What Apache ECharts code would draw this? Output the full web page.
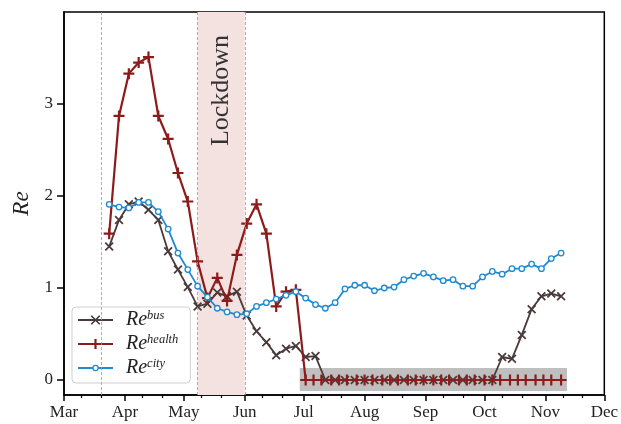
<!DOCTYPE html>
<html><head><meta charset="utf-8">
<script src="https://cdn.jsdelivr.net/npm/echarts@6/dist/echarts.min.js"></script>
<style>html,body{margin:0;padding:0;background:#fff}#c{width:621px;height:424px}</style>
</head><body><div id="c"></div>
<script>
// ---- data ----
const dates = ['2020-03-24','2020-03-29','2020-04-03','2020-04-08','2020-04-13','2020-04-18','2020-04-23','2020-04-28','2020-05-03','2020-05-08',
  '2020-05-13','2020-05-18','2020-05-23','2020-05-28','2020-06-02','2020-06-07','2020-06-12','2020-06-17','2020-06-22','2020-06-27',
  '2020-07-02','2020-07-07','2020-07-12','2020-07-17','2020-07-22','2020-07-27','2020-08-01','2020-08-06','2020-08-11','2020-08-16',
  '2020-08-21','2020-08-26','2020-08-31','2020-09-05','2020-09-10','2020-09-15','2020-09-20','2020-09-25','2020-09-30','2020-10-05',
  '2020-10-10','2020-10-15','2020-10-20','2020-10-25','2020-10-30','2020-11-04','2020-11-09'];
const busValues = [1.45,1.74,1.91,1.94,1.85,1.74,1.40,1.20,1.01,0.80,
  0.83,0.95,0.91,0.96,0.70,0.53,0.41,0.27,0.34,0.37,
  0.25,0.26,0,0,0,0,0,0,0,0,
  0,0,0,0,0,0,0,0,0,0,
  0.25,0.23,0.49,0.77,0.91,0.94,0.91];
const cityValues = [1.91,1.88,1.87,1.93,1.93,1.83,1.64,1.38,1.20,1.02,
  0.90,0.78,0.74,0.71,0.72,0.80,0.84,0.88,0.92,0.96,
  0.89,0.82,0.78,0.84,0.99,1.03,1.03,0.97,1.00,1.01,
  1.09,1.13,1.16,1.12,1.08,1.09,1.02,1.02,1.12,1.18,
  1.15,1.21,1.21,1.26,1.21,1.32,1.38];
const healthDates = ['2020-03-24','2020-03-29','2020-04-03','2020-04-08','2020-04-13','2020-04-18','2020-04-23','2020-04-28','2020-05-03','2020-05-08',
  '2020-05-13','2020-05-18','2020-05-23','2020-05-28','2020-06-02','2020-06-07','2020-06-12','2020-06-17','2020-06-22','2020-06-27',
  '2020-07-02','2020-07-06','2020-07-10','2020-07-15','2020-07-19','2020-07-23','2020-07-28','2020-08-01','2020-08-05','2020-08-10',
  '2020-08-14','2020-08-18','2020-08-23','2020-08-27','2020-08-31','2020-09-05','2020-09-09','2020-09-13','2020-09-18','2020-09-22',
  '2020-09-26','2020-10-01','2020-10-05','2020-10-09','2020-10-14','2020-10-18','2020-10-22','2020-10-27','2020-10-31','2020-11-04','2020-11-09'];
const healthValues = [1.59,2.87,3.33,3.45,3.51,2.87,2.62,2.25,1.94,1.29,
  0.89,1.11,0.86,1.36,1.70,1.91,1.59,0.80,0.96,0.98,
  0,0,0,0,0,0,0,0,0,0,
  0,0,0,0,0,0,0,0,0,0,
  0,0,0,0,0,0,0,0,0,0,0];
const monthTicks = ['2020-03-01','2020-04-01','2020-05-01','2020-06-01','2020-07-01','2020-08-01','2020-09-01','2020-10-01','2020-11-01','2020-12-01'];
const monthLabels = ['Mar','Apr','May','Jun','Jul','Aug','Sep','Oct','Nov','Dec'];
const minorTicks = ['2020-03-10','2020-03-20','2020-04-10','2020-04-20','2020-05-10','2020-05-20','2020-06-10','2020-06-20',
  '2020-07-10','2020-07-20','2020-08-10','2020-08-20','2020-09-10','2020-09-20','2020-10-10','2020-10-20','2020-11-10','2020-11-20'];
const yTicks = [0, 1, 2, 3];
const lockdownRange = ['2020-05-08', '2020-06-01'];
const startDate = '2020-03-20';
const zeroBand = ['2020-06-29', '2020-11-12', -0.12, 0.13];
const seriesNames = ['bus', 'health', 'city'];

// ---- chart ----
const ts = s => { const p = s.split('-').map(Number); return Date.UTC(p[0], p[1] - 1, p[2]); };
const monthTs = monthTicks.map(ts);
const serif = "'Liberation Serif', 'DejaVu Serif', serif";
const plusPath = 'path://M4,0H6V4H10V6H6V10H4V6H0V4H4Z';
const xPath = 'path://M4.2,0H5.8V4.2H10V5.8H5.8V10H4.2V5.8H0V4.2H4.2Z';
const colBus = '#4a3a3a', colHealth = '#8e1b1b', colCity = '#1e8ad0';
// legend icons (line + marker) in a 35 x 12 box
const iconBus = 'path://M0,5.1H35V6.9H0Z M22.344,9.642L21.142,10.844L12.656,2.358L13.858,1.156Z M22.344,2.358L13.858,10.844L12.656,9.642L21.142,1.156Z';
const iconHealth = 'path://M0,4.9H35V7.1H0Z M16.4,1H18.6V11H16.4Z';
const iconCity = 'path://M0,5.1H14.4V6.9H0Z M20.6,5.1H35V6.9H20.6Z M20.7,6A3.2,3.2 0 1 1 14.3,6A3.2,3.2 0 1 1 20.7,6Z M19.5,6A2,2 0 1 0 15.5,6A2,2 0 1 0 19.5,6Z';

const chart = echarts.init(document.getElementById('c'), null, {renderer: 'canvas'});
chart.setOption({
  animation: false,
  backgroundColor: '#fff',
  grid: {left: 64, right: 13, top: 12, bottom: 29, show: true, borderColor: '#000', borderWidth: 1.5, containLabel: false},
  legend: {
    orient: 'vertical', left: 72, top: 307,
    data: [
      {name: seriesNames[0], icon: iconBus, itemStyle: {color: colBus, borderWidth: 0}},
      {name: seriesNames[1], icon: iconHealth, itemStyle: {color: colHealth, borderWidth: 0}},
      {name: seriesNames[2], icon: iconCity, itemStyle: {color: colCity, borderWidth: 0}}
    ],
    itemWidth: 35, itemHeight: 12, itemGap: 3,
    padding: [2, 12, 5, 6],
    borderColor: '#cfcfcf', borderWidth: 1, borderRadius: 4,
    backgroundColor: 'rgba(255,255,255,0.85)',
    formatter: n => '{i|Re}{s|' + n + '}',
    textStyle: {
      padding: [0, 0, 0, 8],
      rich: {
        i: {fontFamily: serif, fontStyle: 'italic', fontSize: 20, color: '#222', lineHeight: 22},
        s: {fontFamily: serif, fontStyle: 'italic', fontSize: 12.5, color: '#222', verticalAlign: 'top', lineHeight: 12}
      }
    }
  },
  xAxis: [{
    type: 'value', min: monthTs[0], max: monthTs[monthTs.length - 1],
    axisLine: {show: true, onZero: false, lineStyle: {color: '#000', width: 1.5}},
    axisTick: {show: true, customValues: monthTs, length: 6, lineStyle: {color: '#000', width: 1.5}},
    axisLabel: {
      customValues: monthTs, margin: 9, color: '#222', fontFamily: serif, fontSize: 17,
      formatter: v => {
        let best = 0, bd = Infinity;
        monthTs.forEach((t, i) => { const d = Math.abs(t - v); if (d < bd) { bd = d; best = i; } });
        return monthLabels[best];
      }
    },
    splitLine: {show: false}
  }, {
    type: 'value', min: monthTs[0], max: monthTs[monthTs.length - 1], position: 'bottom',
    axisLine: {show: false, onZero: false},
    axisTick: {show: true, customValues: minorTicks.map(ts), length: 3, lineStyle: {color: '#000', width: 1.2}},
    axisLabel: {show: false},
    splitLine: {show: false}
  }],
  yAxis: {
    type: 'value', min: -0.163, max: 4.0,
    name: 'Re', nameLocation: 'middle', nameGap: 25,
    nameTextStyle: {fontFamily: serif, fontStyle: 'italic', fontSize: 23, color: '#222'},
    axisLine: {show: true, lineStyle: {color: '#000', width: 1.5}},
    axisTick: {show: true, customValues: yTicks, length: 7, lineStyle: {color: '#000', width: 1.5}},
    axisLabel: {customValues: yTicks, margin: 11, color: '#222', fontFamily: serif, fontSize: 17},
    splitLine: {show: false}
  },
  series: [
    {
      name: 'bands', type: 'line', data: [], z: 1, silent: true,
      markArea: {
        silent: true,
        data: [
          [{xAxis: ts(lockdownRange[0]), itemStyle: {color: '#f4e2e1'},
            label: {show: true, formatter: 'Lockdown', position: ['50%', '20.5%'], align: 'center', verticalAlign: 'middle',
                    rotate: 90, fontFamily: serif, fontSize: 26, color: '#333'}},
           {xAxis: ts(lockdownRange[1])}],
          [{xAxis: ts(zeroBand[0]), yAxis: zeroBand[2], itemStyle: {color: '#bfbfbf'}, label: {show: false}},
           {xAxis: ts(zeroBand[1]), yAxis: zeroBand[3]}]
        ]
      },
      markLine: {
        silent: true, symbol: ['none', 'none'], label: {show: false},
        lineStyle: {color: '#9a9a9a', type: [3, 2], width: 0.8},
        data: [{xAxis: ts(startDate)}, {xAxis: ts(lockdownRange[0])}, {xAxis: ts(lockdownRange[1])}]
      }
    },
    {
      name: 'bus', type: 'line', z: 3,
      data: dates.map((d, i) => [ts(d), busValues[i]]),
      symbol: xPath, symbolRotate: 45, symbolSize: 11, showAllSymbol: true,
      lineStyle: {color: colBus, width: 1.8},
      itemStyle: {color: colBus}
    },
    {
      name: 'health', type: 'line', z: 4,
      data: healthDates.map((d, i) => [ts(d), healthValues[i]]),
      symbol: plusPath, symbolSize: 11, showAllSymbol: true,
      lineStyle: {color: colHealth, width: 2.2},
      itemStyle: {color: colHealth}
    },
    {
      name: 'city', type: 'line', z: 5,
      data: dates.map((d, i) => [ts(d), cityValues[i]]),
      symbol: 'circle', symbolSize: 5.5, showAllSymbol: true,
      lineStyle: {color: colCity, width: 1.8},
      itemStyle: {color: '#fff', borderColor: colCity, borderWidth: 1.3}
    }
  ]
});
</script></body></html>
